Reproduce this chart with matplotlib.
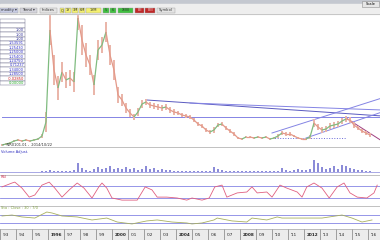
import numpy as np
import matplotlib
matplotlib.use("Agg")
import matplotlib.pyplot as plt
from matplotlib.collections import LineCollection
from matplotlib.patches import Rectangle

# price series (index step = one bar group)
close = [0.1, 0.2, 0.3, 0.5, 0.6, 0.5, 0.6, 0.5, 0.6, 0.7,
         1.0, 2.4, 11.6, 7.6, 5.8, 7.4, 6.6, 6.8, 6.4, 12.8,
         10.6, 9.1, 8.1, 6.1, 9.6, 10.1, 11.4, 9.1, 7.6, 5.1,
         4.6, 3.8, 3.3, 2.9, 3.4, 4.2, 4.4, 4.1, 4.0, 3.9,
         3.8, 3.9, 3.6, 3.4, 3.3, 3.1, 3.0, 2.9, 2.6, 2.2,
         2.0, 1.6, 1.4, 1.6, 2.1, 2.2, 1.8, 1.5, 1.2, 0.8,
         0.7, 0.9, 0.9, 0.8, 0.9, 0.8, 0.9, 0.7, 0.8, 1.0,
         1.3, 1.2, 1.2, 1.0, 0.8, 0.7, 0.7, 0.9, 2.3, 1.9,
         1.6, 1.7, 2.0, 2.1, 2.2, 2.5, 2.7, 2.6, 2.1, 1.8,
         1.5, 1.3, 1.1]

# half of the high-low range around each close
spread = [0.1, 0.1, 0.1, 0.1, 0.1, 0.1, 0.1, 0.1, 0.1, 0.1,
          0.2, 1.0, 1.5, 1.5, 1.2, 1.0, 0.8, 0.8, 1.0, 1.2,
          1.5, 1.2, 1.0, 1.0, 1.0, 0.8, 1.0, 1.0, 1.0, 0.8,
          0.6, 0.5, 0.4, 0.3, 0.4, 0.4, 0.3, 0.3, 0.3, 0.3,
          0.3, 0.3, 0.3, 0.3, 0.2, 0.2, 0.2, 0.2, 0.2, 0.2,
          0.2, 0.2, 0.2, 0.3, 0.2, 0.2, 0.2, 0.2, 0.2, 0.1,
          0.1, 0.1, 0.1, 0.1, 0.1, 0.1, 0.1, 0.1, 0.1, 0.2,
          0.2, 0.2, 0.2, 0.1, 0.1, 0.1, 0.1, 0.2, 0.4, 0.3,
          0.3, 0.3, 0.3, 0.3, 0.3, 0.3, 0.3, 0.3, 0.3, 0.2,
          0.2, 0.2, 0.2]

volume = [0.5, 0.5, 0.5, 0.5, 0.5, 0.5, 0.5, 0.5, 0.5, 0.5, 1, 1, 2, 1, 1, 1, 1, 1,
          2, 9, 4, 2, 1.5, 3, 5, 3, 4, 6, 3, 4, 3, 5, 3, 4, 2, 3, 6, 3, 4, 2,
          3, 2, 2, 1.5, 1.5, 1, 1, 1, 1, 1, 1, 1, 1, 5, 3, 2, 1.5, 1, 1, 1,
          1, 1, 1, 1, 1, 1, 1, 1, 1, 1.5, 4, 2, 1.5, 2, 3, 2, 2, 3, 12, 9,
          5, 3, 4, 6, 3, 7, 6, 4, 3, 2, 2, 1.5, 1.5]

rsi_x = [0, 2.5, 3.2, 5, 6.8, 8.2, 10, 11.8, 13.2, 15,
         16.8, 18.8, 20.5, 22.5, 24.2, 25, 26.2, 27.5, 30, 33.8,
         35.8, 37.5, 38.8, 41.2, 43.8, 46.2, 47.5, 50, 51.8, 53.2,
         55, 56.2, 58.8, 61.2, 62.5, 63.8, 66.2, 67.5, 69.5, 71.2,
         73.8, 75, 76.2, 78, 80, 81.8, 83.8, 85.5, 87, 88.8,
         91.2, 93, 93.8]
rsi = [67, 80, 83, 63, 33, 40, 73, 83, 63, 33,
       57, 80, 63, 30, 67, 80, 63, 30, 23, 23,
       67, 57, 33, 33, 30, 23, 30, 23, 30, 67,
       73, 33, 47, 50, 67, 47, 50, 33, 73, 63,
       50, 33, 67, 80, 63, 30, 67, 80, 47, 33,
       30, 47, 73]

sto_x = [0, 2.5, 5, 8.2, 11.2, 12.5, 15, 18.8, 22.5, 26.2, 28.8, 32.5, 36.2, 38.8, 42.5, 46.2,
         47.5, 50, 53, 53.8, 57.5, 61.2, 62.5, 66.2, 68.8, 70, 75, 80, 85, 87.5, 90, 92.5]
sto = [71, 78, 64, 56, 100, 93, 71, 64, 42, 56, 27, 13, 35, 42, 27, 20,
       13, 20, 42, 56, 35, 27, 56, 42, 64, 56, 56, 56, 78, 56, 27, 42]

# trend lines drawn by the user: (x0, p0, x1, p1, colour, style)
trend_lines = [
    (0, 2.9, 95, 2.9, "#8484e4", "-"),
    (36.2, 4.6, 95, 3.0, "#5a5ac0", "-"),
    (47, 4.3, 95, 3.6, "#8484e4", "-"),
    (67.5, 1.3, 95, 4.8, "#8484e4", "-"),
    (76, 0.8, 95, 3.4, "#8484e4", "-"),
    (86, 2.8, 95, 0.5, "#a04080", "-"),
    (67.5, 0.8, 86, 0.8, "#6a6ad8", ":"),
]

date_labels = ["'93", "'94", "'95", "1996", "'97", "'98", "'99", "2000",
               "'01", "'02", "'03", "2004", "'05", "'06", "'07", "2008",
               "'09", "'10", "'11", "2012", "'13", "'14", "'15", "'16"]

table_rows = ["", "", "1.00", "1.00", "1.00", "1.53591", "1.25430", "1.25000",
              "1.25400", "1.24750", "0.71237", "1.34000", "1.28500", "-0.02850", "0.00000"]
table_colors = ["k", "k", "#333399", "#333399", "#333399", "#3333cc", "#3333cc", "#3333cc",
                "#3333cc", "#3333cc", "#3333cc", "#3333cc", "#3333cc", "#cc2222", "#22aa22"]

W, H = 380, 240
fig = plt.figure(figsize=(3.8, 2.4), dpi=100)
fig.patch.set_facecolor("white")


def px_axes(x0, y0, x1, y1):
    ax = fig.add_axes([x0 / W, 1 - y1 / H, (x1 - x0) / W, (y1 - y0) / H])
    ax.set_xticks([])
    ax.set_yticks([])
    for s in ax.spines.values():
        s.set_visible(False)
    ax.set_xlim(-0.5, 94.5)
    return ax


idx = np.arange(len(close))
close_a = np.array(close)
spread_a = np.array(spread)

# main price panel
ax = px_axes(0, 14, 380, 146)
ax.set_ylim(0, 13.2)
for x0, p0, x1, p1, c, ls in trend_lines:
    ax.plot([x0, x1], [p0, p1], color=c, lw=0.7, ls=ls)
ax.vlines(idx, close_a - spread_a, close_a + spread_a, color="#eab4a8", lw=1.4)
pts = np.column_stack([idx, close])
segs = np.stack([pts[:-1], pts[1:]], axis=1)
cols = ["#80bc80" if b > a else "#e49a8a" for a, b in zip(close[:-1], close[1:])]
ax.add_collection(LineCollection(segs, colors=cols, linewidths=0.9))

# volume panel
axv = px_axes(0, 148, 380, 174)
axv.set_ylim(-2, 24)
axv.bar(idx, volume, width=0.4, color="#8c8cd8")
axv.axhline(0, color="#9a9ae0", lw=0.6)

# RSI panel
axr = px_axes(0, 175, 380, 205)
axr.set_ylim(6.7, 106.7)
axr.axhline(70, color="#8484e4", lw=0.6)
axr.axhline(30, color="#8484e4", lw=0.6)
axr.plot(rsi_x, rsi, color="#e06080", lw=0.6)

# stochastic panel
axs = px_axes(0, 206, 380, 229)
axs.set_ylim(-24, 144)
axs.axhline(80, color="#8484e4", lw=0.6)
axs.axhline(20, color="#8484e4", lw=0.6)
axs.plot(sto_x, sto, color="#a8b060", lw=0.6)

# date strip
axd = px_axes(0, 229, 380, 240)
axd.set_ylim(0, 1)
axd.set_facecolor("#ececec")
for i, lab in enumerate(date_labels):
    axd.axvline(i * 4 - 0.5, color="#808080", lw=0.5)
    axd.text(i * 4 + 0.2, 0.45, lab, fontsize=3, va="center", color="#202020",
             fontweight="bold" if len(lab) == 4 else "normal")

# overlay for toolbar, separators and labels (pixel coordinates)
ov = fig.add_axes([0, 0, 1, 1], zorder=5)
ov.set_xlim(0, W)
ov.set_ylim(H, 0)
ov.axis("off")
ov.patch.set_alpha(0)

ov.add_patch(Rectangle((0, 0), W, 4, color="#c4c8d0"))
ov.add_patch(Rectangle((0, 4), W, 10, color="#eeeeee"))
ov.add_patch(Rectangle((362, 1), 17, 6, facecolor="#e6e6e6", edgecolor="#909090", lw=0.4))
ov.text(370.5, 4, "Scale", fontsize=2.6, ha="center", va="center")
ov.plot([0, W], [13.5, 13.5], color="#c0c0c0", lw=0.6)

buttons = [(0, 18, "modity \u25be", "#c8cce4"), (20, 37, "Trend \u25be", "#d4d4dc"),
           (40, 57, "Indices", "#e4e4e4"),
           (60, 64, "Q", "#f4f070"), (65, 71, "1Y", "#f4f070"), (72, 78, "3M", "#f4f070"),
           (79, 85, "6M", "#f4f070"), (86, 101, "1YM", "#f4f070"),
           (103, 109, "5", "#40c040"), (110, 116, "6", "#40c040"), (118, 133, "XIIIII", "#40c040"),
           (135, 144, "IIII", "#c02828"), (145, 155, "IIIII", "#c02828"),
           (157, 175, "Symbol", "#e4e4e4")]
for x0, x1, lab, c in buttons:
    ov.add_patch(Rectangle((x0, 7.5), x1 - x0, 5.5, facecolor=c, edgecolor="#a0a0a0", lw=0.3))
    ov.text((x0 + x1) / 2, 10.3, lab, fontsize=2.6, ha="center", va="center",
            color="white" if c == "#c02828" else "#303030")

# data window table
for r, (txt, c) in enumerate(zip(table_rows, table_colors)):
    y = 19 + r * 4.4
    ov.add_patch(Rectangle((0, y), 25, 4.4, facecolor="white", edgecolor="#606080", lw=0.3))
    ov.text(24, y + 2.3, txt, fontsize=2.6, ha="right", va="center", color=c)

# panel separators and labels
for y in (146.5, 174.5, 205.5, 229):
    ov.plot([0, W], [y, y], color="#a8a8a8", lw=0.5)
ov.text(3, 145, ":  NR0101.01 ,  2014/10/22", fontsize=2.6, va="center", color="#303030")
ov.text(1, 152, "Volume Adjust.", fontsize=2.6, va="center", color="#3030c0")
ov.text(1, 177.5, "RSI", fontsize=2.6, va="center", color="#d03050")
ov.text(1, 208, "Sto : Close : 30 : 7/0", fontsize=2.6, va="center", color="#80a040")

fig.savefig("out.png", dpi=100)
